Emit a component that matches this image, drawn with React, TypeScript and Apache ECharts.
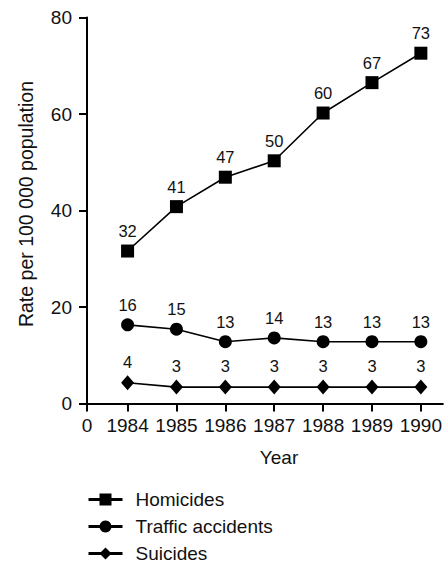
import React, { useEffect, useRef } from "react";
import * as echarts from "echarts";

const years = [1984, 1985, 1986, 1987, 1988, 1989, 1990];
const homicides = [31.6, 40.8, 46.9, 50.3, 60.2, 66.5, 72.6];
const traffic = [16.3, 15.4, 12.8, 13.6, 12.8, 12.8, 12.8];
const suicides = [4.3, 3.4, 3.4, 3.4, 3.4, 3.4, 3.4];
const xStart = 1983.17;
const xEnd = 1990.45;
const xTickValues = [xStart, ...years];
const yTicks = [0, 20, 40, 60, 80];

const FONT = "'Liberation Sans', Arial, Helvetica, sans-serif";
const INK = "#111";

export default function App() {
  const ref = useRef<HTMLDivElement>(null);
  useEffect(() => {
    document.body.style.margin = "0";
    const chart = echarts.init(ref.current!, null, { renderer: "svg" });
    const mk = (name: string, vals: number[], symbol: string, size: any) => ({
      name,
      type: "line",
      data: vals.map((v, i) => [years[i], v]),
      symbol,
      symbolSize: size,
      lineStyle: { color: "#000", width: 1.6 },
      itemStyle: { color: "#000" },
      label: {
        show: true,
        position: "top",
        distance: 5,
        fontSize: 16.5,
        fontFamily: FONT,
        color: INK,
        formatter: (p: any) => String(Math.round(p.value[1])),
      },
    });
    chart.setOption({
      animation: false,
      grid: { left: 87, right: 0, top: 17.5, bottom: 159.5 },
      xAxis: {
        type: "value",
        min: xStart,
        max: xEnd,
        axisLine: { lineStyle: { color: "#000", width: 2 } },
        axisTick: {
          show: true,
          length: 8,
          customValues: xTickValues,
          lineStyle: { color: "#000", width: 2 },
        },
        axisLabel: {
          customValues: xTickValues,
          margin: 12,
          fontSize: 19,
          fontFamily: FONT,
          color: INK,
          formatter: (v: number) => (v < 1984 ? "0" : String(Math.round(v))),
        },
        splitLine: { show: false },
      },
      yAxis: {
        type: "value",
        min: 0,
        max: 80,
        interval: 20,
        axisLine: { show: true, lineStyle: { color: "#000", width: 2 } },
        axisTick: { show: true, length: 8, lineStyle: { color: "#000", width: 2 } },
        axisLabel: {
          margin: 15,
          fontSize: 19,
          fontFamily: FONT,
          color: INK,
          formatter: (v: number) => (yTicks.includes(v) ? String(v) : ""),
        },
        splitLine: { show: false },
      },
      legend: {
        orient: "vertical",
        left: 87,
        top: 490,
        width: 300,
        height: 120,
        padding: 0,
        itemWidth: 34,
        itemHeight: 15,
        itemGap: 8,
        lineStyle: { width: 3 },
        textStyle: {
          fontSize: 19,
          lineHeight: 19,
          fontFamily: FONT,
          color: INK,
          padding: [0, 0, 0, 8],
        },
        data: ["Homicides", "Traffic accidents", "Suicides"],
      },
      graphic: [
        {
          type: "text",
          x: 279,
          y: 457,
          style: {
            text: "Year",
            fontSize: 19,
            fontFamily: FONT,
            fill: INK,
            textAlign: "center",
            textVerticalAlign: "middle",
          },
        },
        {
          type: "text",
          x: 26,
          y: 204,
          rotation: Math.PI / 2,
          style: {
            text: "Rate per 100 000 population",
            fontSize: 19.5,
            fontFamily: FONT,
            fill: INK,
            textAlign: "center",
            textVerticalAlign: "middle",
          },
        },
      ],
      series: [
        mk("Homicides", homicides, "rect", 13),
        mk("Traffic accidents", traffic, "circle", 13),
        mk("Suicides", suicides, "diamond", [13, 15]),
      ],
    });
    return () => chart.dispose();
  }, []);
  return <div ref={ref} style={{ width: 445, height: 563 }} />;
}
